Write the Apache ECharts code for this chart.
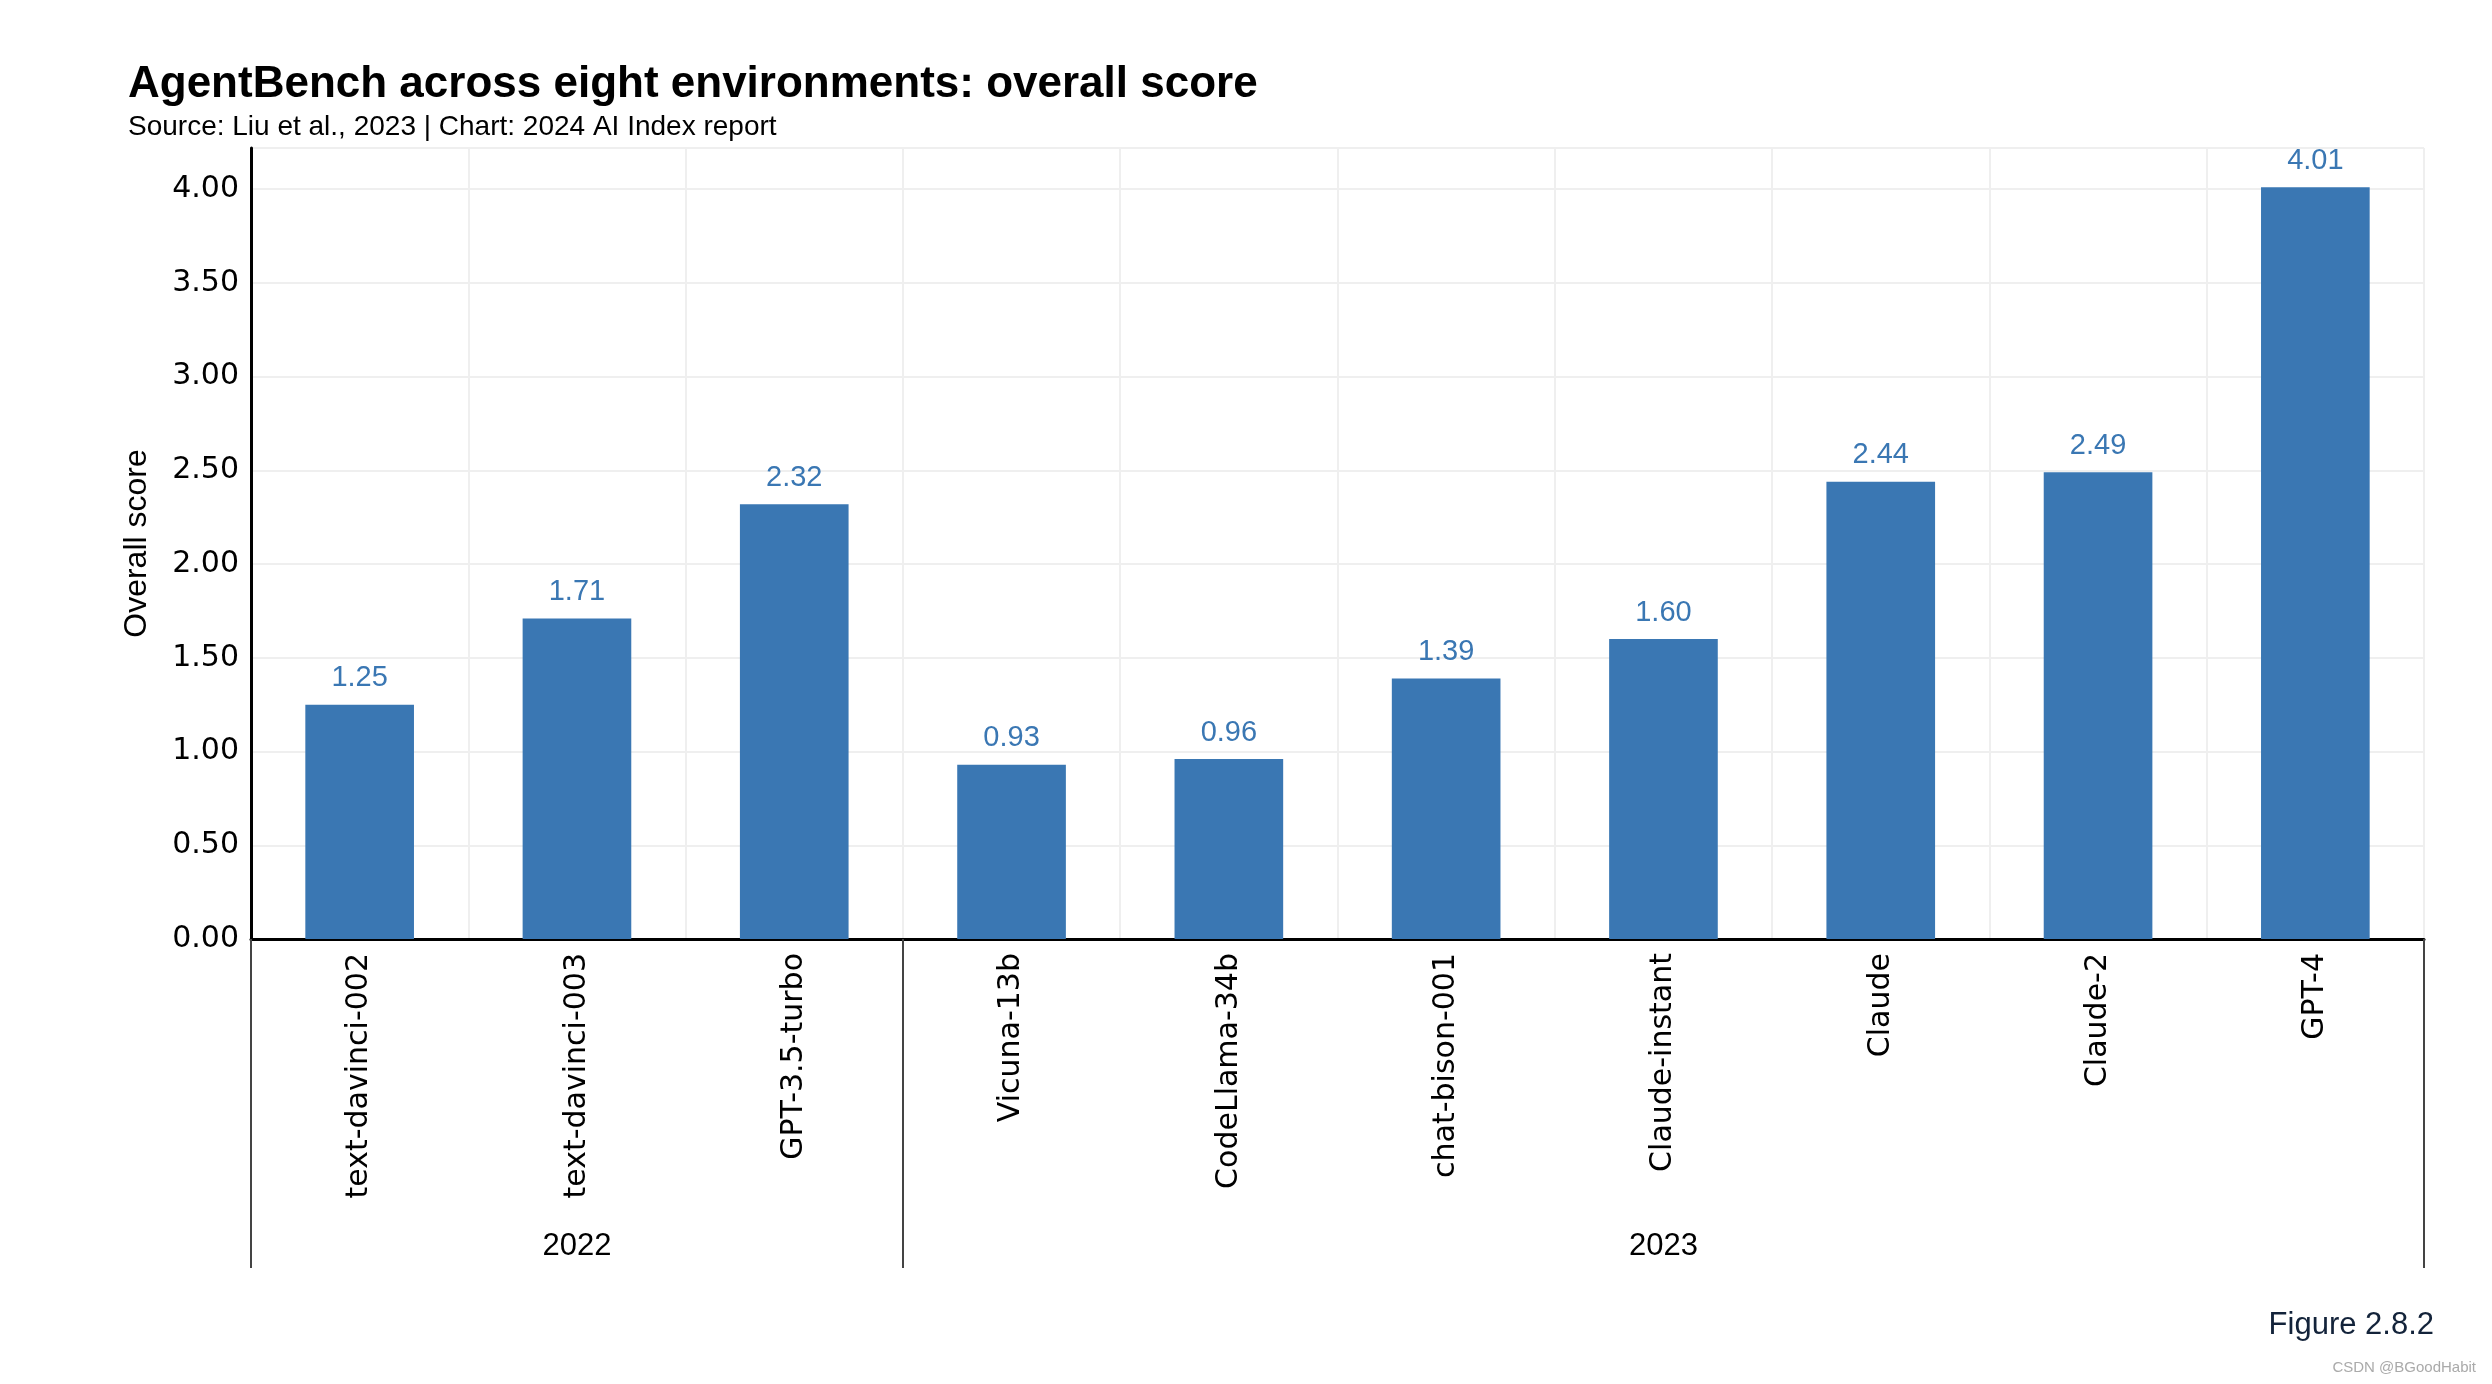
<!DOCTYPE html>
<html>
<head>
<meta charset="utf-8">
<script src="https://cdn.jsdelivr.net/npm/echarts@6/dist/echarts.min.js"></script>
<style>html,body{margin:0;padding:0;background:#fff}#c{width:2492px;height:1384px}</style>
</head>
<body>
<div id="c"></div>
<script>
const categories = ['text-davinci-002','text-davinci-003','GPT-3.5-turbo','Vicuna-13b','CodeLlama-34b','chat-bison-001','Claude-instant','Claude','Claude-2','GPT-4'];
const scores = [1.25, 1.71, 2.32, 0.93, 0.96, 1.39, 1.60, 2.44, 2.49, 4.01];
const groupNames = ['2022', '2023'];
const groupBoundaries = [0, 3, 10];
const groupCenters = [1.5, 6.5];
const yTicks = [0, 0.5, 1, 1.5, 2, 2.5, 3, 3.5, 4];

const chart = echarts.init(document.getElementById('c'));
const font = 'Liberation Sans';
chart.setOption({
  backgroundColor: '#ffffff',
  animation: false,
  title: {
    text: 'AgentBench across eight environments: overall score',
    subtext: 'Source: Liu et al., 2023 | Chart: 2024 AI Index report',
    left: 123, top: 58, itemGap: 6,
    textStyle: {fontFamily: font, fontWeight: 'bold', fontSize: 44, color: '#000'},
    subtextStyle: {fontFamily: font, fontSize: 28, color: '#000'}
  },
  graphic: [
    {type: 'text', right: 58, top: 1310, style: {text: 'Figure 2.8.2', font: '31px "Liberation Sans"', fill: '#13233a'}},
    {type: 'text', right: 16, top: 1360, style: {text: 'CSDN @BGoodHabit', font: '15px "Liberation Sans"', fill: '#aaaaaa'}}
  ],
  grid: {left: 251, right: 68, top: 148, bottom: 445, containLabel: false},
  xAxis: [{
    type: 'category', data: categories, boundaryGap: true,
    axisLine: {show: true, lineStyle: {color: '#000', width: 3}},
    axisTick: {show: false},
    axisLabel: {rotate: 90, margin: 14, fontFamily: 'DejaVu Sans', fontSize: 30, color: '#000'},
    splitLine: {show: true, interval: 0, lineStyle: {color: '#efefef', width: 2}}
  }, {
    type: 'value', min: 0, max: 10, position: 'bottom', gridIndex: 0,
    axisLine: {show: false},
    axisTick: {show: true, customValues: groupBoundaries, length: 329, lineStyle: {color: '#444', width: 2}},
    axisLabel: {show: true, customValues: groupCenters, margin: 292, fontFamily: font, fontSize: 31, color: '#000',
      formatter: v => groupNames[groupCenters.indexOf(v)]},
    splitLine: {show: false}
  }],
  yAxis: {
    type: 'value', min: 0, max: 4.22, interval: 0.5,
    name: 'Overall score', nameLocation: 'middle', nameGap: 98, nameRotate: 90,
    nameTextStyle: {fontFamily: font, fontSize: 32, color: '#000'},
    axisLine: {show: true, lineStyle: {color: '#000', width: 3}},
    axisTick: {show: false},
    axisLabel: {margin: 12, fontFamily: 'DejaVu Sans', fontSize: 30, color: '#000', showMaxLabel: false,
      formatter: v => yTicks.includes(v) ? v.toFixed(2) : ''},
    splitLine: {show: true, lineStyle: {color: '#efefef', width: 2}}
  },
  series: [{
    type: 'bar', data: scores, xAxisIndex: 0, barCategoryGap: '50%',
    itemStyle: {color: '#3a77b3'},
    label: {show: true, position: 'top', distance: 12, fontFamily: font, fontSize: 29, color: '#3a77b3',
      formatter: p => p.value.toFixed(2)}
  }]
});
</script>
</body>
</html>
